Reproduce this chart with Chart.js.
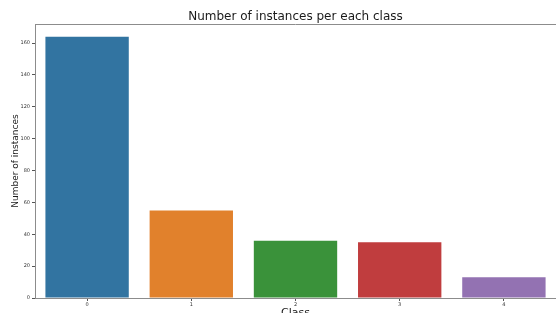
<!DOCTYPE html>
<html>
<head>
<meta charset="utf-8">
<script src="https://cdn.jsdelivr.net/npm/chart.js@4/dist/chart.umd.min.js"></script>
<style>
  html, body { margin: 0; padding: 0; background: #fff; }
</style>
</head>
<body>
<canvas id="chart" width="556" height="313"></canvas>
<script>
const classes = ['0', '1', '2', '3', '4'];
const counts = [164, 55, 36, 35, 13];
const yTicks = [0, 20, 40, 60, 80, 100, 120, 140, 160];
const barColors = ['#3274a1', '#e1812c', '#3a923a', '#c03d3e', '#9372b2'];

// top spine like matplotlib
const topSpine = {
    id: 'topSpine',
    afterDraw(chart) {
        const a = chart.chartArea, ctx = chart.ctx;
        ctx.save();
        ctx.strokeStyle = '#8c8c8c';
        ctx.lineWidth = 1;
        ctx.beginPath();
        ctx.moveTo(a.left, a.top + 0.5);
        ctx.lineTo(a.right, a.top + 0.5);
        ctx.stroke();
        ctx.restore();
    }
};

new Chart(document.getElementById('chart'), {
    type: 'bar',
    data: {
        labels: classes,
        datasets: [{
            data: counts,
            backgroundColor: barColors,
            borderWidth: 0,
            categoryPercentage: 0.8,
            barPercentage: 1
        }]
    },
    options: {
        responsive: false,
        animation: false,
        layout: { padding: 0 },
        plugins: {
            legend: { display: false },
            tooltip: { enabled: false },
            title: {
                display: true,
                text: 'Number of instances per each class',
                fullSize: false,
                color: '#1a1a1a',
                font: { family: 'DejaVu Sans', size: 12, weight: 'normal', lineHeight: 1 },
                padding: { top: 11, bottom: 1 }
            }
        },
        scales: {
            x: {
                grid: { drawOnChartArea: false, drawTicks: true, tickLength: 3, color: '#555', offset: false },
                border: { display: true, color: '#8c8c8c' },
                ticks: { color: '#333', font: { family: 'DejaVu Sans', size: 5 }, padding: 1, maxRotation: 0 },
                title: {
                    display: true,
                    text: 'Class',
                    color: '#1a1a1a',
                    font: { family: 'DejaVu Sans', size: 11 },
                    padding: { top: 0, bottom: -7 }
                },
                afterFit: (s) => { s.height = 15; }
            },
            y: {
                min: 0,
                max: 172,
                grid: { drawOnChartArea: false, drawTicks: true, tickLength: 3, color: '#555' },
                border: { display: true, color: '#8c8c8c' },
                ticks: { color: '#333', font: { family: 'DejaVu Sans', size: 5 }, padding: 2 },
                afterBuildTicks: (s) => { s.ticks = yTicks.map(v => ({ value: v })); },
                title: {
                    display: true,
                    text: 'Number of instances',
                    color: '#1a1a1a',
                    font: { family: 'DejaVu Sans', size: 9 },
                    padding: { top: 10, bottom: 0 }
                },
                afterFit: (s) => { s.width = 35; }
            }
        }
    },
    plugins: [topSpine]
});
</script>
</body>
</html>
